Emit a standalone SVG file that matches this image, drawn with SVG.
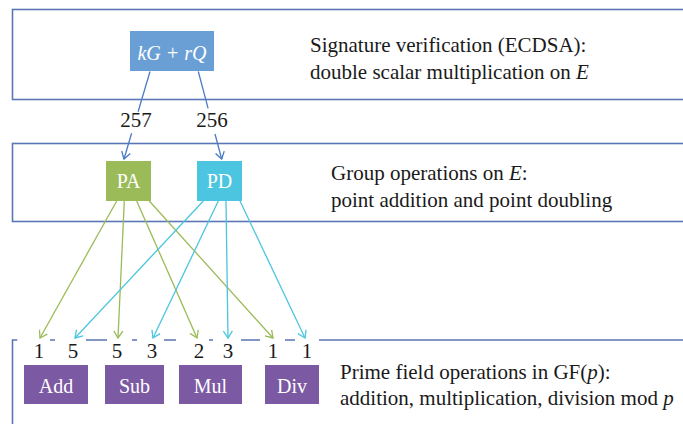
<svg xmlns="http://www.w3.org/2000/svg" width="683" height="424" viewBox="0 0 683 424">
  <style>
    .frame { fill: none; stroke: #5a76b4; stroke-width: 1.6; }
    .lbl { font-family: "Liberation Serif", "Times New Roman", serif; font-size: 21px; fill: #1a1a1a; }
    .nodetxt { font-family: "Liberation Serif", "Times New Roman", serif; font-size: 20px; fill: #ffffff; text-anchor: middle; }
    .num { font-family: "Liberation Serif", "Times New Roman", serif; font-size: 21px; fill: #1a1a1a; text-anchor: middle; }
    .it { font-style: italic; }
    .blue { stroke: #4a7cc6; stroke-width: 1.3; fill: none; }
    .green { stroke: #9bbb59; stroke-width: 1.3; fill: none; }
    .cyan { stroke: #4bc5e0; stroke-width: 1.3; fill: none; }
  </style>
  <defs>
    <marker id="arrBlue" markerUnits="userSpaceOnUse" markerWidth="12" markerHeight="12" viewBox="-8 -6 10 12" refX="0" refY="0" orient="auto">
      <path d="M-7,-4.5 L0,0 L-7,4.5" fill="none" stroke="#4a7cc6" stroke-width="1.3"/>
    </marker>
    <marker id="arrGreen" markerUnits="userSpaceOnUse" markerWidth="12" markerHeight="12" viewBox="-8 -6 10 12" refX="0" refY="0" orient="auto">
      <path d="M-7,-4.5 L0,0 L-7,4.5" fill="none" stroke="#9bbb59" stroke-width="1.3"/>
    </marker>
    <marker id="arrCyan" markerUnits="userSpaceOnUse" markerWidth="12" markerHeight="12" viewBox="-8 -6 10 12" refX="0" refY="0" orient="auto">
      <path d="M-7,-4.5 L0,0 L-7,4.5" fill="none" stroke="#4bc5e0" stroke-width="1.3"/>
    </marker>
  </defs>

  <rect width="683" height="424" fill="#ffffff"/>

  <!-- layer frames -->
  <g id="layer-ecdsa">
    <rect class="frame" x="12.5" y="9.5" width="700" height="90"/>
    <text class="lbl" x="310" y="52">Signature verification (ECDSA):</text>
    <text class="lbl" x="310" y="79">double scalar multiplication on <tspan class="it">E</tspan></text>
  </g>
  <g id="layer-group">
    <rect class="frame" x="12.5" y="143.5" width="700" height="78"/>
    <text class="lbl" x="331" y="180">Group operations on <tspan class="it">E</tspan>:</text>
    <text class="lbl" x="331" y="207">point addition and point doubling</text>
  </g>
  <g id="layer-field">
    <path class="frame" d="M12.5,430 V340 H17.3 M50,340 H55 M86,340 H107 M132,340 H137 M164,340 H176 M209,340 H213 M241,340 H260 M285,340 H295 M319,340 H690"/>
    <text class="lbl" x="340" y="379">Prime field operations in GF(<tspan class="it">p</tspan>):</text>
    <text class="lbl" x="340" y="405">addition, multiplication, division mod <tspan class="it">p</tspan></text>
  </g>

  <!-- connectors -->
  <g id="connectors">
    <path class="blue" d="M150,71.5 L138.1,111.7"/>
    <path class="blue" d="M131.6,133.3 L124,159" marker-end="url(#arrBlue)"/>
    <path class="blue" d="M198.3,71.5 L208.1,108.3"/>
    <path class="blue" d="M215,134 L221.7,159" marker-end="url(#arrBlue)"/>

    <path class="green" d="M116.7,201 L40,338" marker-end="url(#arrGreen)"/>
    <path class="green" d="M124.3,201 L118,338" marker-end="url(#arrGreen)"/>
    <path class="green" d="M136.7,201 L197,338" marker-end="url(#arrGreen)"/>
    <path class="green" d="M149.3,201 L273,338" marker-end="url(#arrGreen)"/>

    <path class="cyan" d="M203.3,201 L75,338" marker-end="url(#arrCyan)"/>
    <path class="cyan" d="M218.3,201 L153,338" marker-end="url(#arrCyan)"/>
    <path class="cyan" d="M226,201 L228,338" marker-end="url(#arrCyan)"/>
    <path class="cyan" d="M240,201 L305,338" marker-end="url(#arrCyan)"/>

    <text class="num" x="136" y="127">257</text>
    <text class="num" x="212" y="127">256</text>

    <text class="num" x="39" y="358">1</text>
    <text class="num" x="73" y="358">5</text>
    <text class="num" x="117" y="358">5</text>
    <text class="num" x="152" y="358">3</text>
    <text class="num" x="199" y="358">2</text>
    <text class="num" x="228" y="358">3</text>
    <text class="num" x="273" y="358">1</text>
    <text class="num" x="307" y="358">1</text>
  </g>

  <!-- nodes -->
  <g id="node-kGrQ">
    <rect x="130" y="31" width="84" height="40" fill="#6a9fd5"/>
    <text class="nodetxt it" x="172" y="60" font-size="21">kG + rQ</text>
  </g>
  <g id="node-PA">
    <rect x="106" y="161" width="45" height="40" fill="#9bbb59"/>
    <text class="nodetxt" x="128.5" y="188">PA</text>
  </g>
  <g id="node-PD">
    <rect x="197" y="161" width="45" height="40" fill="#4bc5e0"/>
    <text class="nodetxt" x="219.5" y="188">PD</text>
  </g>
  <g id="node-Add">
    <rect x="24" y="365" width="64" height="39" fill="#7b59a3"/>
    <text class="nodetxt" x="56" y="393">Add</text>
  </g>
  <g id="node-Sub">
    <rect x="105" y="365" width="59" height="39" fill="#7b59a3"/>
    <text class="nodetxt" x="134.5" y="393">Sub</text>
  </g>
  <g id="node-Mul">
    <rect x="179" y="365" width="63" height="39" fill="#7b59a3"/>
    <text class="nodetxt" x="210.5" y="393">Mul</text>
  </g>
  <g id="node-Div">
    <rect x="265" y="365" width="54" height="39" fill="#7b59a3"/>
    <text class="nodetxt" x="292" y="393">Div</text>
  </g>
</svg>
